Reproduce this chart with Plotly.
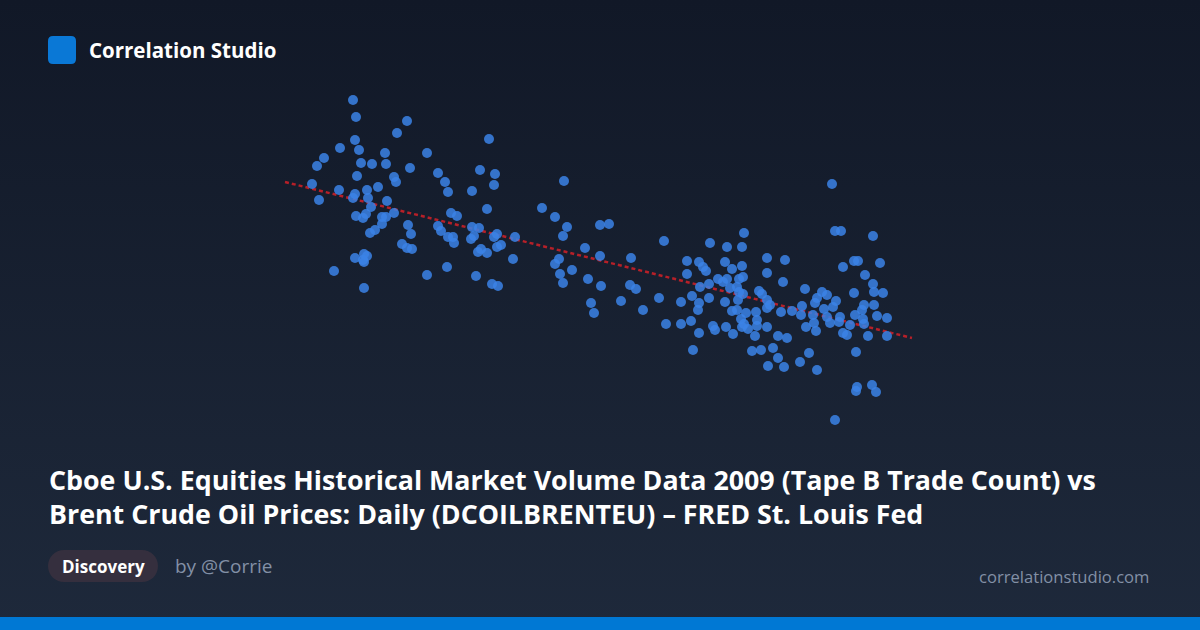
import plotly.graph_objects as go

# Points (x: Tape B trade count scale, y: Brent price scale, in chart units)
xs = [353,356,407,397,355,340,359,324,385,427,317,361,372,386,410,438,357,394,396,312,339,367,378,355,353,368,319,387,371,356,363,366,382,386,394,382,408,375,370,411,438,441,402,407,412,355,364,367,363,364,334,427,364,
      489,480,495,445,494,448,472,564,487,542,451,457,555,567,600,609,448,453,454,472,479,474,471,497,494,515,501,497,481,478,487,563,585,600,631,513,559,555,572,560,563,588,601,630,447,476,492,498,591,621,594,
      664,710,744,727,742,687,699,703,706,725,732,742,767,687,767,718,723,727,739,743,636,700,709,730,737,739,743,759,762,767,659,681,692,699,709,725,738,643,698,732,737,746,756,767,666,681,691,713,715,726,741,744,742,748,757,757,767,699,733,755,693,752,761,768,
      832,835,841,873,785,843,854,858,880,783,805,865,873,874,883,854,770,781,792,802,801,815,822,817,827,836,833,824,813,827,840,839,830,814,806,816,855,864,874,862,863,877,887,850,864,843,847,868,887,778,787,773,809,856,778,784,800,817,857,856,872,876,835]
ys = [100,117,121,133,140,148,150,158,153,153,166,163,164,164,168,173,176,177,182,184,190,190,187,194,198,198,200,201,207,216,218,214,217,217,213,224,225,230,233,234,226,231,244,248,249,258,254,256,260,262,271,275,288,
      139,170,174,182,185,192,191,181,209,208,213,216,217,227,225,224,237,237,243,227,228,236,239,234,237,237,245,247,249,252,253,236,248,256,258,259,259,264,270,274,283,279,286,285,267,276,284,286,303,301,313,
      241,243,233,247,247,261,262,267,271,262,269,266,258,274,273,279,282,279,279,277,289,287,284,288,287,292,294,291,294,300,298,302,296,303,298,302,300,310,310,311,310,313,312,308,324,324,321,326,330,327,319,324,327,329,320,326,327,333,334,336,350,351,350,366,
      184,231,231,236,260,267,261,261,263,282,289,275,284,292,293,293,305,312,311,306,315,303,292,298,295,301,307,309,315,317,317,322,323,323,327,331,315,305,305,310,319,316,318,325,324,333,335,336,336,336,338,348,353,352,358,367,362,370,387,391,385,392,420]

# Trend line end points
trend_x = [285, 912]
trend_y = [182, 338]

title_lines = ["Cboe U.S. Equities Historical Market Volume Data 2009 (Tape B Trade Count) vs",
               "Brent Crude Oil Prices: Daily (DCOILBRENTEU) \u2013 FRED St. Louis Fed"]

W, H = 1200, 630

bg_svg = ("data:image/svg+xml;utf8,"
          "<svg xmlns='http://www.w3.org/2000/svg' width='1200' height='630'>"
          "<defs><linearGradient id='g' x1='0' y1='0' x2='0' y2='1'>"
          "<stop offset='0' stop-color='%23111827'/><stop offset='1' stop-color='%231e293b'/>"
          "</linearGradient></defs><rect width='1200' height='630' fill='url(%23g)'/></svg>")

fig = go.Figure()
fig.add_trace(go.Scatter(x=trend_x, y=trend_y, mode="lines",
                         line=dict(color="rgba(200,32,40,0.9)", width=2.5, dash="4px,3px"),
                         hoverinfo="skip", showlegend=False))
fig.add_trace(go.Scatter(x=xs, y=ys, mode="markers",
                         marker=dict(size=10, color="rgba(59,130,230,0.85)", line=dict(width=0)),
                         showlegend=False))

font = "Open Sans, Noto Sans, sans-serif"

logo_path = "M 53,36 L 71,36 Q 76,36 76,41 L 76,59 Q 76,64 71,64 L 53,64 Q 48,64 48,59 L 48,41 Q 48,36 53,36 Z"
pill_path = ("M 64,550 L 142,550 C 151,550 158,557 158,566 C 158,575 151,582 142,582 "
             "L 64,582 C 55,582 48,575 48,566 C 48,557 55,550 64,550 Z")
shapes = [
    dict(type="path", xref="x", yref="y", path=logo_path,
         fillcolor="#0a78d6", line=dict(width=0), layer="below"),
    dict(type="path", xref="x", yref="y", path=pill_path,
         fillcolor="#352f3e", line=dict(width=0), layer="below"),
    dict(type="rect", xref="x", yref="y", x0=0, x1=1200, y0=617, y1=630,
         fillcolor="#0078d4", line=dict(width=0), layer="below"),
]

annotations = [
    dict(x=87, y=50, text="Correlation Studio", showarrow=False, xanchor="left", yanchor="middle",
         font=dict(family=font, size=20.5, color="#ffffff", weight="bold")),
    dict(x=47, y=479, text=title_lines[0], showarrow=False, xanchor="left", yanchor="middle",
         font=dict(family=font, size=26.8, color="#ffffff", weight="bold")),
    dict(x=47, y=513, text=title_lines[1], showarrow=False, xanchor="left", yanchor="middle",
         font=dict(family=font, size=26.8, color="#ffffff", weight="bold")),
    dict(x=103, y=566, text="Discovery", showarrow=False, xanchor="center", yanchor="middle",
         font=dict(family=font, size=17, color="#ffffff", weight="bold")),
    dict(x=173, y=566, text="by @Corrie", showarrow=False, xanchor="left", yanchor="middle",
         font=dict(family=font, size=19, color="#8390a6")),
    dict(x=1151, y=576, text="correlationstudio.com", showarrow=False, xanchor="right", yanchor="middle",
         font=dict(family=font, size=16.6, color="#8390a6")),
]

fig.update_layout(
    width=W, height=H,
    margin=dict(l=0, r=0, t=0, b=0),
    paper_bgcolor="#111827", plot_bgcolor="rgba(0,0,0,0)",
    xaxis=dict(range=[0, W], visible=False, fixedrange=True),
    yaxis=dict(range=[H, 0], visible=False, fixedrange=True),
    images=[dict(source=bg_svg, xref="paper", yref="paper", x=0, y=1, sizex=1, sizey=1,
                 xanchor="left", yanchor="top", sizing="stretch", layer="below")],
    shapes=shapes,
    annotations=annotations,
    showlegend=False,
    hovermode=False,
)

fig.write_html("out.html", config={"displayModeBar": False},
               post_script="document.body.style.margin='0';document.body.style.overflow='hidden';document.body.style.background='#111827';")
